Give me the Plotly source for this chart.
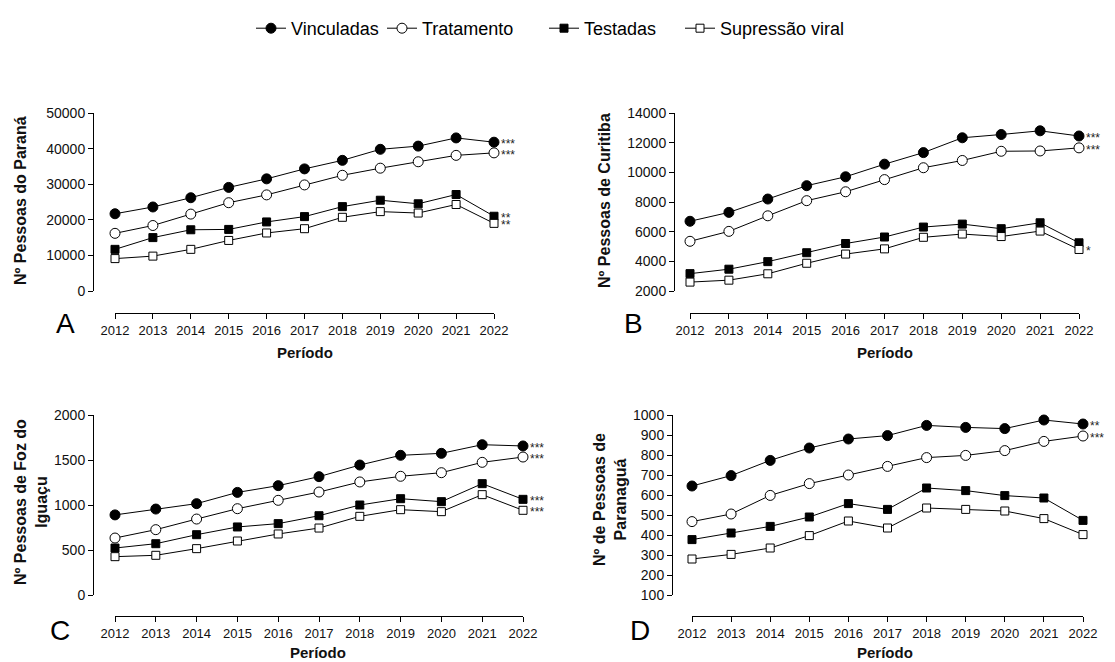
import plotly.graph_objects as go

W, H = 1115, 662

years = list(range(2012, 2023))
series_names = ["Vinculadas", "Tratamento", "Testadas", "Supressão viral"]

# Paraná (estado)
parana_vinculadas = [21700, 23600, 26200, 29100, 31500, 34300, 36700, 39800, 40700, 43000, 41800]
parana_tratamento = [16200, 18400, 21600, 24800, 27000, 29800, 32500, 34500, 36300, 38100, 38800]
parana_testadas = [11700, 15000, 17200, 17300, 19400, 20900, 23700, 25500, 24500, 27100, 21000]
parana_supressao = [9100, 9800, 11700, 14200, 16300, 17500, 20700, 22300, 21900, 24300, 19000]
parana_sig = ["***", "***", "**", "**"]

# Curitiba
curitiba_vinculadas = [6700, 7300, 8200, 9100, 9700, 10550, 11330, 12330, 12550, 12800, 12450]
curitiba_tratamento = [5350, 6020, 7070, 8090, 8690, 9510, 10310, 10800, 11420, 11440, 11650]
curitiba_testadas = [3170, 3470, 3980, 4580, 5200, 5640, 6310, 6510, 6200, 6600, 5250]
curitiba_supressao = [2600, 2730, 3160, 3870, 4490, 4840, 5620, 5840, 5670, 6040, 4800]
curitiba_sig = ["***", "***", "", "*"]

# Foz do Iguaçu
foz_vinculadas = [890, 955, 1015, 1140, 1215, 1315, 1444, 1552, 1574, 1670, 1656]
foz_tratamento = [633, 726, 844, 959, 1052, 1144, 1256, 1319, 1359, 1474, 1533]
foz_testadas = [522, 570, 670, 756, 793, 881, 1000, 1070, 1037, 1237, 1063]
foz_supressao = [426, 441, 515, 600, 678, 744, 874, 948, 926, 1115, 941]
foz_sig = ["***", "***", "***", "***"]

# Paranaguá
paranagua_vinculadas = [645, 697, 773, 835, 880, 897, 948, 938, 932, 975, 955]
paranagua_tratamento = [467, 505, 598, 657, 700, 743, 787, 798, 822, 868, 895]
paranagua_testadas = [377, 410, 443, 490, 557, 528, 635, 622, 597, 585, 473]
paranagua_supressao = [280, 303, 335, 397, 470, 435, 535, 528, 520, 482, 402]
paranagua_sig = ["**", "***", "", ""]

FONT = "Liberation Sans, Arial, sans-serif"


def fx(px):
    return px / W


def fy(py):
    return 1 - py / H


panels = [
    dict(series=[parana_vinculadas, parana_tratamento, parana_testadas, parana_supressao],
         sig=parana_sig, title="Nº Pessoas do Paraná", letter="A",
         xdom=(115, 494), ydom=(113, 291), ypos=93, xpos=313,
         yrange=(0, 50000), dtick=10000,
         title_xy=(21, 201), letter_xy=(65, 323), period_xy=(305, 353)),
    dict(series=[curitiba_vinculadas, curitiba_tratamento, curitiba_testadas, curitiba_supressao],
         sig=curitiba_sig, title="Nº Pessoas de Curitiba", letter="B",
         xdom=(690, 1079), ydom=(113, 291), ypos=674, xpos=313,
         yrange=(2000, 14000), dtick=2000,
         title_xy=(605, 201), letter_xy=(633, 323), period_xy=(885, 353)),
    dict(series=[foz_vinculadas, foz_tratamento, foz_testadas, foz_supressao],
         sig=foz_sig, title="Nº Pessoas de Foz do<br>Iguaçu", letter="C",
         xdom=(115, 523), ydom=(415, 595), ypos=93, xpos=616,
         yrange=(0, 2000), dtick=500,
         title_xy=(31, 502), letter_xy=(60, 630), period_xy=(318, 652)),
    dict(series=[paranagua_vinculadas, paranagua_tratamento, paranagua_testadas, paranagua_supressao],
         sig=paranagua_sig, title="Nº de Pessoas de<br>Paranaguá", letter="D",
         xdom=(692, 1083), ydom=(415, 595), ypos=672, xpos=616,
         yrange=(100, 1000), dtick=100,
         title_xy=(610, 500), letter_xy=(640, 630), period_xy=(885, 652)),
]

markers = [
    dict(symbol="circle", size=10, color="black", line=dict(color="black", width=1)),
    dict(symbol="circle", size=10, color="white", line=dict(color="black", width=1)),
    dict(symbol="square", size=8, color="black", line=dict(color="black", width=1)),
    dict(symbol="square", size=8, color="white", line=dict(color="black", width=1)),
]

# one legend box per series, laid out in a row along the top
legend_ids = ["legend", "legend2", "legend3", "legend4"]
legend_left_px = [251, 382, 544, 680]

fig = go.Figure()
annotations = []
layout_axes = {}

for i, p in enumerate(panels):
    n = "" if i == 0 else str(i + 1)
    xref, yref = "x" + n, "y" + n
    for k, (name, vals) in enumerate(zip(series_names, p["series"])):
        fig.add_trace(go.Scatter(
            x=years, y=vals, name=name, mode="lines+markers",
            line=dict(color="black", width=1), marker=markers[k],
            xaxis=xref, yaxis=yref, cliponaxis=False,
            legend=legend_ids[k], legendgroup=name, showlegend=(i == 0),
        ))
        if p["sig"][k]:
            annotations.append(dict(
                x=years[-1], y=vals[-1], xref=xref, yref=yref,
                text=p["sig"][k], showarrow=False, xanchor="left", yanchor="middle",
                xshift=6, yshift=-2, borderpad=0,
                font=dict(family=FONT, size=12, color="#222"),
            ))

    layout_axes["xaxis" + n] = dict(
        domain=[fx(p["xdom"][0]), fx(p["xdom"][1])], range=[2012, 2022],
        anchor="free", position=fy(p["xpos"]), automargin=False,
        tickmode="array", tickvals=years, ticktext=[str(y) for y in years],
        ticks="outside", ticklen=5, tickwidth=1, tickcolor="black",
        showline=True, linecolor="black", linewidth=1,
        showgrid=False, zeroline=False,
        tickfont=dict(family=FONT, size=13, color="#111"),
    )
    layout_axes["yaxis" + n] = dict(
        domain=[fy(p["ydom"][1]), fy(p["ydom"][0])], range=list(p["yrange"]),
        anchor="free", position=fx(p["ypos"]), automargin=False,
        tick0=p["yrange"][0], dtick=p["dtick"], tickformat="d",
        ticks="outside", ticklen=5, tickwidth=1, tickcolor="black",
        showline=True, linecolor="black", linewidth=1,
        showgrid=False, zeroline=False,
        tickfont=dict(family=FONT, size=14, color="#111"),
    )

    tx, ty = p["title_xy"]
    annotations.append(dict(
        x=fx(tx), y=fy(ty), xref="paper", yref="paper", text="<b>" + p["title"] + "</b>",
        textangle=-90, showarrow=False, xanchor="center", yanchor="middle",
        font=dict(family=FONT, size=16, color="#111"),
    ))
    lx, ly = p["letter_xy"]
    annotations.append(dict(
        x=fx(lx), y=fy(ly), xref="paper", yref="paper", text=p["letter"],
        showarrow=False, xanchor="center", yanchor="middle",
        font=dict(family=FONT, size=28, color="black"),
    ))
    px_, py_ = p["period_xy"]
    annotations.append(dict(
        x=fx(px_), y=fy(py_), xref="paper", yref="paper", text="<b>Período</b>",
        showarrow=False, xanchor="center", yanchor="middle",
        font=dict(family=FONT, size=15, color="#111"),
    ))

legends = {}
for lid, left in zip(legend_ids, legend_left_px):
    legends[lid] = dict(
        orientation="h", x=fx(left), xanchor="left", y=fy(10), yanchor="top",
        font=dict(family=FONT, size=18, color="black"),
        bgcolor="rgba(0,0,0,0)", itemclick=False, itemdoubleclick=False,
    )

fig.update_layout(
    width=W, height=H,
    margin=dict(l=0, r=0, t=0, b=0, autoexpand=False),
    paper_bgcolor="white", plot_bgcolor="white",
    font=dict(family=FONT, color="black"),
    showlegend=True,
    annotations=annotations,
    **legends,
    **layout_axes,
)

fig.write_html("out.html")
